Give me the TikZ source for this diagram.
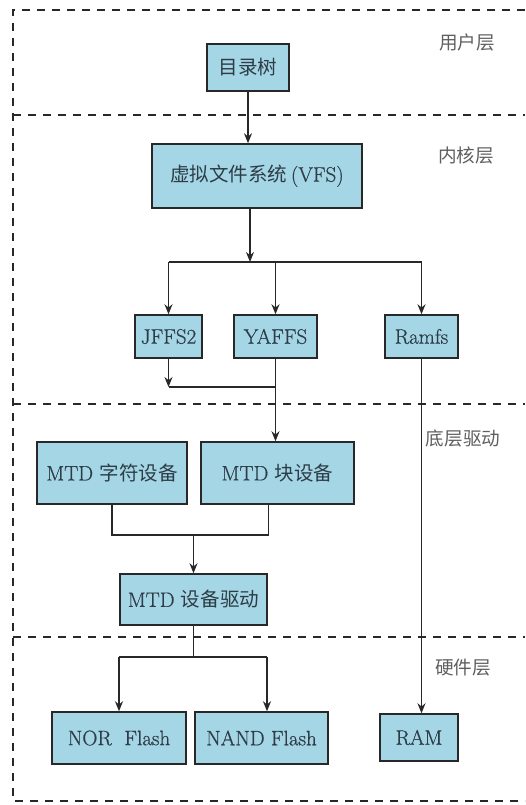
\documentclass[tikz,border=0pt]{standalone}
\usepackage{fontspec}
\newfontfamily\latin{Latin Modern Roman}[FakeBold=0.6]
\newfontfamily\cjk{Noto Sans CJK SC}[Scale=0.93]
\usetikzlibrary{arrows.meta}
\definecolor{boxblue}{RGB}{164,214,229}
\definecolor{inkline}{RGB}{40,40,40}
\definecolor{boxtext}{RGB}{45,60,70}
\definecolor{layergray}{RGB}{95,95,95}
\newcommand{\zh}[1]{{\cjk #1}}
\begin{document}
\begin{tikzpicture}[x=1pt,y=-1pt,
  box/.style={draw=inkline, line width=1.5pt, fill=boxblue, inner sep=0pt,
    text=boxtext, font=\latin\fontsize{21}{21}\selectfont},
  arr/.style={draw=inkline, line width=1.5pt, -{Stealth[length=10pt,width=8pt]}},
  wire/.style={draw=inkline, line width=1.5pt},
  layerline/.style={draw=inkline, line width=2.4pt, dash pattern=on 8pt off 7pt},
  layertag/.style={text=layergray, font=\cjk\fontsize{20}{20}\selectfont}]
\useasboundingbox (0,0) rectangle (525,805);

% layer boundaries
\draw[layerline] (525,10) -- (13,10) -- (13,801) -- (525,801);
\draw[layerline] (13,115) -- (525,115);
\draw[layerline] (13,404) -- (525,404);
\draw[layerline] (13,637) -- (525,637);

% layer names
\node[layertag] (tUser) at (467,42) {用户层};
\node[layertag] (tKernel) at (466,155) {内核层};
\node[layertag] (tDriver) at (463,438) {底层驱动};
\node[layertag] (tHw) at (463,668) {硬件层};

% boxes
\node[box, minimum width=82pt, minimum height=47pt] (tree) at (248,67.5) {\zh{目录树}};
\node[box, minimum width=210pt, minimum height=64pt] (vfs) at (257,176) {\zh{虚拟文件系统}\,(VFS)};
\node[box, minimum width=67pt, minimum height=43pt] (jffs) at (168.5,336.5) {JFFS2};
\node[box, minimum width=83pt, minimum height=43pt] (yaffs) at (275.5,336.5) {YAFFS};
\node[box, minimum width=73pt, minimum height=43pt] (ramfs) at (421.5,336.5) {Ramfs};
\node[box, minimum width=150pt, minimum height=62pt] (mtdc) at (112,473) {MTD \zh{字符设备}};
\node[box, minimum width=153pt, minimum height=62pt] (mtdb) at (277.5,473) {MTD \zh{块设备}};
\node[box, minimum width=147pt, minimum height=51pt] (mtdd) at (193.5,599.5) {MTD \zh{设备驱动}};
\node[box, minimum width=134pt, minimum height=52pt] (nor) at (119,738) {NOR\ \ Flash};
\node[box, minimum width=133pt, minimum height=52pt] (nand) at (261.5,738) {NAND\ Flash};
\node[box, minimum width=78pt, minimum height=47pt] (ram) at (419,737.5) {RAM};

% junction points
\coordinate (fan) at (250,262);
\coordinate (fsjoin) at (250,387);
\coordinate (mtdjoin) at (193.5,535);
\coordinate (flashfan) at (193.5,657);

% user layer to VFS
\draw[arr] (tree.south) -- (tree.south |- vfs.north);

% VFS fans out to the file systems
\draw[arr] (vfs.south -| fan) -- (fan);
\draw[wire] (fan -| jffs.south) -- (fan -| ramfs.south);
\draw[arr] (fan -| jffs.north) -- (jffs.north);
\draw[arr] (fan -| yaffs.north) -- (yaffs.north);
\draw[arr] (fan -| ramfs.north) -- (ramfs.north);

% flash file systems down to the MTD block device
\draw[arr] (jffs.south) -- (jffs.south |- fsjoin);
\draw[wire] (jffs.south |- fsjoin) -- (yaffs.south |- fsjoin);
\draw[arr] (yaffs.south) -- (yaffs.south |- mtdb.north);

% Ramfs straight down to RAM
\draw[arr] (ramfs.south) -- (ramfs.south |- ram.north);

% MTD devices merge into the driver
\draw[wire] (mtdc.south) -- (mtdc.south |- mtdjoin) -- ([xshift=-9pt]mtdb.south |- mtdjoin) -- ([xshift=-9pt]mtdb.south);
\draw[arr] (mtdjoin) -- (mtdd.north);

% driver to the flash chips
\draw[wire] (mtdd.south) -- (flashfan);
\draw[wire] (flashfan -| nor.north) -- ([xshift=5.5pt]flashfan -| nand.north);
\draw[arr] (flashfan -| nor.north) -- (nor.north);
\draw[arr] ([xshift=5.5pt]flashfan -| nand.north) -- ([xshift=5.5pt]nand.north);
\end{tikzpicture}
\end{document}
